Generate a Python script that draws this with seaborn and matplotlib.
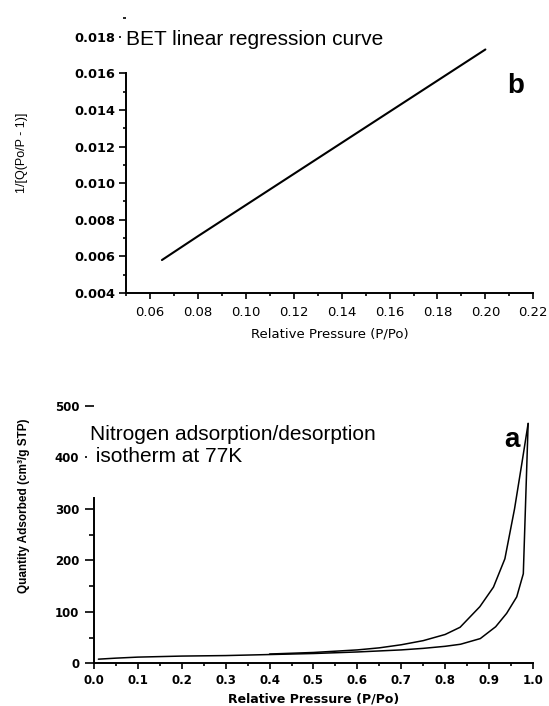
import numpy as np
import pandas as pd
import matplotlib
matplotlib.use('Agg')
import matplotlib.pyplot as plt
import matplotlib.ticker as ticker
import seaborn as sns

# BET linear region (panel b)
bet_p = [0.065, 0.08, 0.10, 0.12, 0.14, 0.16, 0.18, 0.20]
bet_y = [0.0058, 0.0071, 0.0088, 0.0105, 0.0122, 0.0139, 0.0156, 0.0173]

# N2 isotherm (panel a) - adsorption branch
ads_p = [0.01, 0.05, 0.10, 0.15, 0.20, 0.30, 0.40, 0.50, 0.60, 0.65, 0.70, 0.75,
         0.80, 0.835, 0.88, 0.915, 0.94, 0.963, 0.978, 0.989]
ads_q = [8, 10, 12, 13, 14, 15, 17, 19, 22, 24, 26, 29,
         33, 37, 48, 71, 97, 129, 174, 466]
# desorption branch
des_p = [0.989, 0.975, 0.958, 0.936, 0.910, 0.879, 0.834, 0.80, 0.75, 0.70,
         0.65, 0.60, 0.50, 0.40]
des_q = [466, 390, 300, 203, 148, 110, 70, 56, 44, 36,
         30, 26, 21, 18]

sns.set_style('ticks')
plt.rcParams['font.family'] = ['DejaVu Sans']
for key in ['text.color', 'axes.edgecolor', 'axes.labelcolor', 'xtick.color', 'ytick.color']:
    plt.rcParams[key] = 'black'
plt.rcParams['axes.linewidth'] = 1.4
plt.rcParams['xtick.major.width'] = 1.2
plt.rcParams['ytick.major.width'] = 1.2
plt.rcParams['xtick.minor.width'] = 1.2
plt.rcParams['ytick.minor.width'] = 1.2
plt.rcParams['xtick.major.size'] = 4.5
plt.rcParams['ytick.major.size'] = 5
plt.rcParams['xtick.minor.size'] = 2.5
plt.rcParams['ytick.minor.size'] = 2.5

fig = plt.figure(figsize=(5.49, 7.06), dpi=100)
ax_b = fig.add_axes([0.2295, 0.5850, 0.7419, 0.3890])
ax_a = fig.add_axes([0.1712, 0.0605, 0.7996, 0.3645])

arial = 'Liberation Sans'

# ---- panel b: BET plot
sns.lineplot(x=bet_p, y=bet_y, color='black', lw=1.5, sort=False,
             estimator=None, ax=ax_b)
ax_b.set_xlim(0.05, 0.22)
ax_b.set_ylim(0.004, 0.019)
ax_b.xaxis.set_major_locator(ticker.FixedLocator(np.arange(0.06, 0.2201, 0.02)))
ax_b.xaxis.set_minor_locator(ticker.FixedLocator(np.arange(0.05, 0.2101, 0.02)))
ax_b.yaxis.set_major_locator(ticker.FixedLocator(np.arange(0.004, 0.0181, 0.002)))
ax_b.yaxis.set_minor_locator(ticker.FixedLocator([0.005, 0.007, 0.009, 0.011, 0.013, 0.015, 0.019]))
ax_b.xaxis.set_major_formatter(ticker.FormatStrFormatter('%.2f'))
ax_b.yaxis.set_major_formatter(ticker.FormatStrFormatter('%.3f'))
ax_b.tick_params(axis='x', labelsize=9.5, pad=5)
ax_b.tick_params(axis='y', labelsize=9.3, pad=3)
for lbl in ax_b.get_yticklabels():
    lbl.set_fontweight('bold')
sns.despine(ax=ax_b)
ax_b.spines['left'].set_bounds(0.004, 0.016)
ax_b.set_xlabel('Relative Pressure (P/Po)', fontsize=9.5, labelpad=6)
ax_b.set_ylabel('1/[Q(Po/P - 1)]', fontsize=9, family=arial)
ax_b.yaxis.set_label_coords(-0.241, 0.51)
ax_b.text(0.0, 0.923, 'BET linear regression curve', transform=ax_b.transAxes,
          fontsize=15, family=arial, va='center', ha='left', zorder=5,
          bbox=dict(facecolor='white', edgecolor='none', boxstyle='square,pad=0.25'))
ax_b.text(0.956, 0.755, 'b', transform=ax_b.transAxes, fontsize=20,
          fontweight='bold', family=arial, ha='center', va='center')

# ---- panel a: isotherm
sns.lineplot(x=ads_p, y=ads_q, color='black', lw=1.1, sort=False,
             estimator=None, ax=ax_a)
sns.lineplot(x=des_p, y=des_q, color='black', lw=1.1, sort=False,
             estimator=None, ax=ax_a)
ax_a.set_xlim(0, 1.0)
ax_a.set_ylim(0, 500)
ax_a.xaxis.set_major_locator(ticker.MultipleLocator(0.1))
ax_a.xaxis.set_minor_locator(ticker.FixedLocator(np.arange(0.05, 1.0, 0.1)))
ax_a.yaxis.set_major_locator(ticker.MultipleLocator(100))
ax_a.yaxis.set_minor_locator(ticker.FixedLocator([50, 150, 250]))
ax_a.xaxis.set_major_formatter(ticker.FormatStrFormatter('%.1f'))
ax_a.tick_params(axis='x', labelsize=8.5, pad=3)
ax_a.tick_params(axis='y', which='major', labelsize=8.5, pad=4, length=6.5)
ax_a.tick_params(axis='y', which='minor', length=3.5)
for lbl in ax_a.get_xticklabels() + ax_a.get_yticklabels():
    lbl.set_fontweight('bold')
sns.despine(ax=ax_a)
ax_a.spines['left'].set_bounds(0, 322)
ax_a.set_xlabel('Relative Pressure (P/Po)', fontsize=9, fontweight='bold', labelpad=4)
ax_a.set_ylabel('Quantity Adsorbed (cm³/g STP)', fontsize=8.5, fontweight='bold',
                family=arial)
ax_a.yaxis.set_label_coords(-0.146, 0.611)
ax_a.text(-0.0091, 0.848, 'Nitrogen adsorption/desorption\n isotherm at 77K',
          transform=ax_a.transAxes, fontsize=15, family=arial, va='center',
          ha='left', zorder=5, clip_on=False,
          bbox=dict(facecolor='white', edgecolor='none', boxstyle='square,pad=0.15'))
ax_a.text(0.951, 0.866, 'a', transform=ax_a.transAxes, fontsize=20,
          fontweight='bold', family=arial, ha='center', va='center')

fig.savefig('out.png', dpi=100)
